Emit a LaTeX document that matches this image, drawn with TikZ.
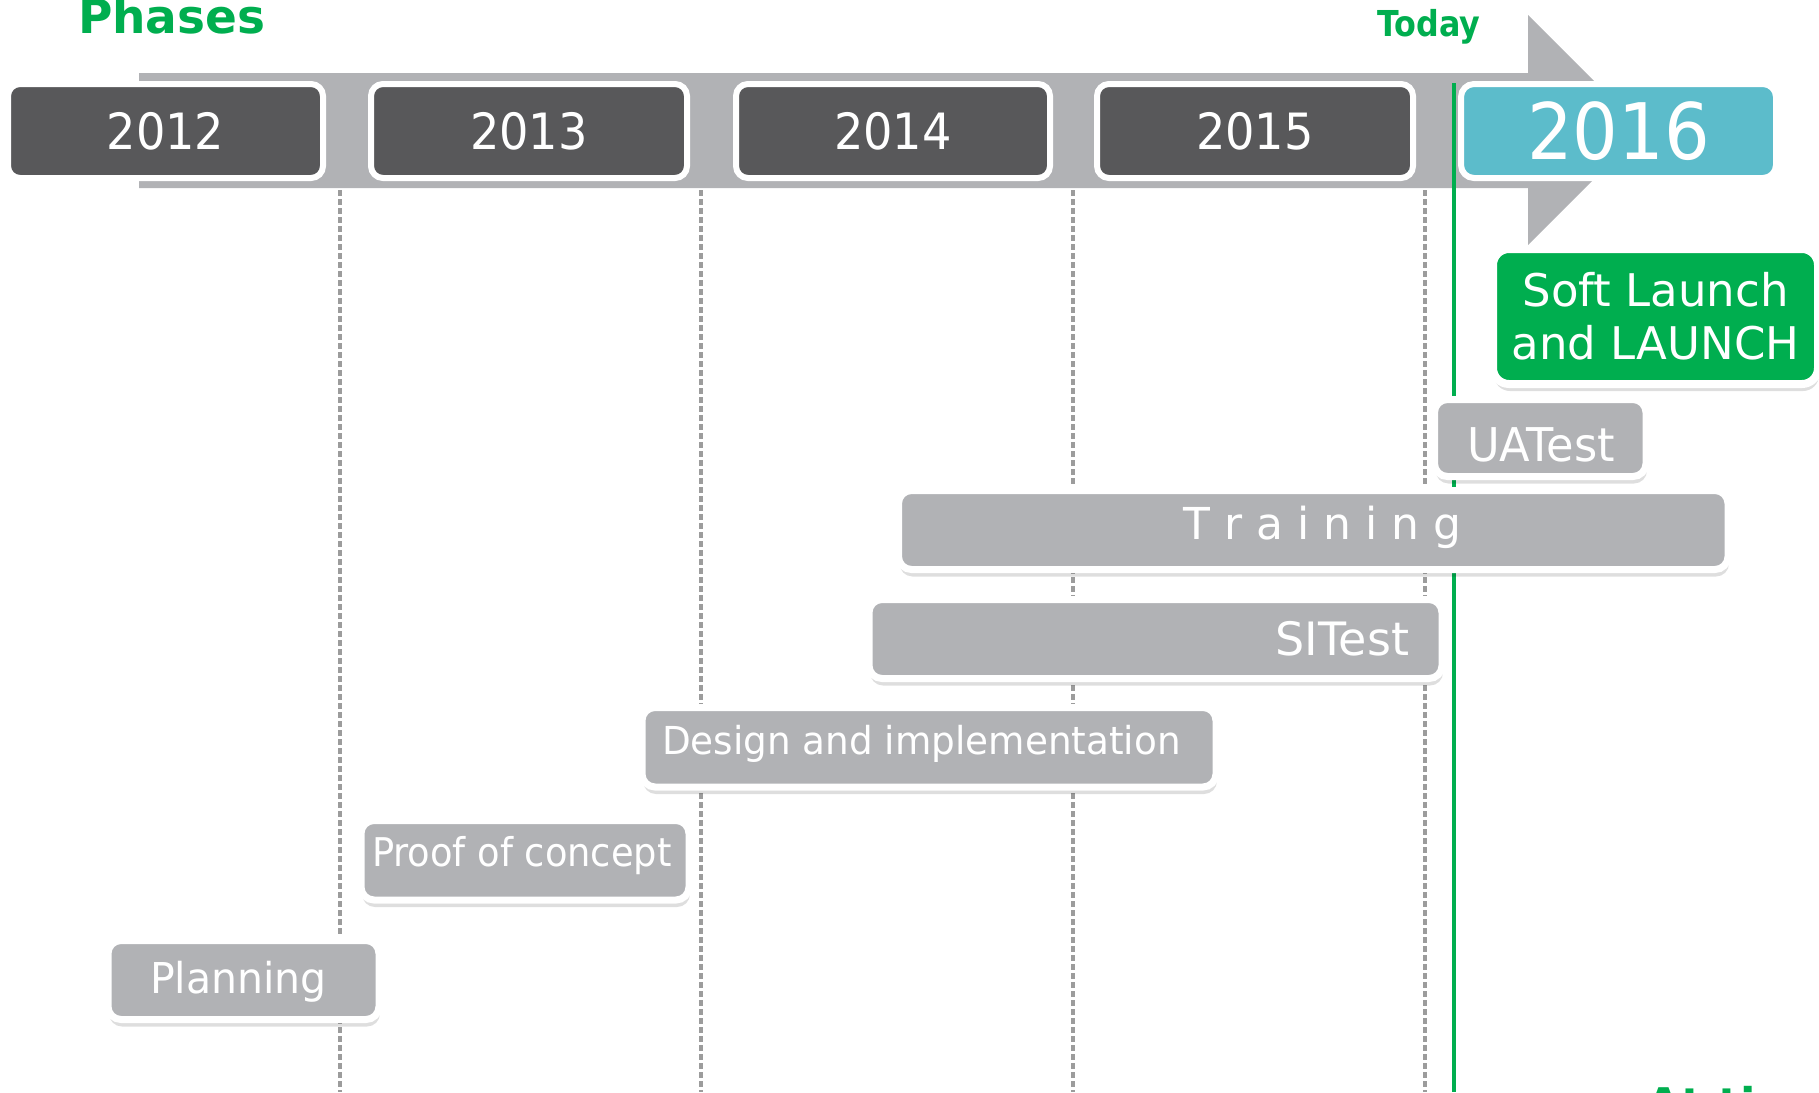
\documentclass[tikz,border=0pt]{standalone}
\usepackage{fontspec}
\usepackage{graphicx}
\setmainfont{DejaVu Sans}
\usetikzlibrary{shadows}
\definecolor{darkbox}{HTML}{58585A}
\definecolor{bandgray}{HTML}{B1B2B5}
\definecolor{teal16}{HTML}{5CBCCB}
\definecolor{grn}{HTML}{00AE4F}
\definecolor{dashgray}{HTML}{9C9C9C}
\begin{document}
\begin{tikzpicture}[x=1pt,y=-1pt,
  yearbox/.style={draw=white, line width=6pt, fill=darkbox, rounded corners=12pt,
    inner sep=0pt, outer sep=0pt, minimum height=94pt, text=white,
    font=\fontsize{50}{60}\selectfont},
  phasebox/.style={draw=white, line width=7pt, fill=bandgray, rounded corners=13pt,
    inner sep=0pt, outer sep=0pt,
    drop shadow={shadow xshift=1pt, shadow yshift=-7pt, opacity=0.13, fill=black}},
  ptext/.style={text=white, inner sep=0pt, outer sep=0pt},
  gridline/.style={dashgray, line width=4.5pt, dash pattern=on 6pt off 3pt},
  headtext/.style={text=grn, inner sep=0pt, outer sep=0pt}
]
\useasboundingbox (0,0) rectangle (1819,1092);

% dashed year separators
\foreach \n/\gx in {a/340, b/701, c/1073, d/1425}{
  \coordinate (top\n) at (\gx,190);
  \coordinate (bot\n) at (\gx,1092);
  \draw[gridline] (top\n) -- (bot\n);
}

% timeline arrow band
\fill[bandgray] (139,73) -- (1528,73) -- (1528,15) -- (1643,130) -- (1528,245)
  -- (1528,188) -- (139,188) -- cycle;

% today line
\coordinate (todaytop) at (1454,83);
\coordinate (todaybot) at (1454,1092);
\draw[grn, line width=4.5pt] (todaytop) -- (todaybot);

% year boxes
\node[yearbox, minimum width=315pt] (y2012) at (165.5,131) {\scalebox{0.925}[1]{2012}};
\node[yearbox, minimum width=316pt] (y2013) at (529,131) {\scalebox{0.925}[1]{2013}};
\node[yearbox, minimum width=314pt] (y2014) at (893,131) {\scalebox{0.925}[1]{2014}};
\node[yearbox, minimum width=316pt] (y2015) at (1255,131) {\scalebox{0.925}[1]{2015}};
\node[yearbox, fill=teal16, rounded corners=13pt, minimum width=315pt,
  font=\fontsize{78}{90}\selectfont] (y2016) at (1618.5,131) {\scalebox{0.92}[1]{2016}};

% phase boxes
\node[phasebox, fill=grn, line width=8pt, rounded corners=16pt, minimum width=325pt, minimum height=135pt,
  text=white, align=center, font=\fontsize{45}{53}\selectfont]
  (soft) at (1655.5,316.5) {Soft Launch\\and LAUNCH};
\node[phasebox, minimum width=211.5pt, minimum height=77pt] (uat) at (1540.25,438) {};
\node[phasebox, minimum width=829.5pt, minimum height=79pt] (train) at (1313.25,530) {};
\node[phasebox, minimum width=573pt, minimum height=79pt] (sit) at (1155.5,639) {};
\node[phasebox, minimum width=574pt, minimum height=79.5pt] (design) at (929,747.25) {};
\node[phasebox, minimum width=328pt, minimum height=79.5pt] (poc) at (525,860.25) {};
\node[phasebox, minimum width=271pt, minimum height=79pt] (plan) at (243.5,980) {};

% phase labels
\node[ptext, anchor=base, font=\fontsize{46.5}{56}\selectfont] (tuat) at (1541,461) {\scalebox{0.96}[1]{UATest}};
\node[ptext, anchor=base, font=\fontsize{44}{53}\selectfont] (ttrain) at (1322.5,539) {T r a i n i n g};
\node[ptext, anchor=base east, font=\fontsize{46}{55}\selectfont] (tsit) at (1409,655) {SITest};
\node[ptext, anchor=base west, font=\fontsize{38.5}{46}\selectfont] (tdes) at (662,754) {\scalebox{0.97}[1]{Design and implementation}};
\node[ptext, anchor=base west, font=\fontsize{39.6}{48}\selectfont] (tpoc) at (372,866) {\scalebox{0.93}[1]{Proof of concept}};
\node[ptext, anchor=base west, font=\fontsize{42.5}{51}\selectfont] (tplan) at (150,993) {\scalebox{0.965}[1]{Planning}};

% headings
\node[headtext, anchor=base west, font=\bfseries\fontsize{47}{56}\selectfont] (phases) at (78,33) {Phases};
\node[headtext, anchor=base west, font=\bfseries\fontsize{35.7}{43}\selectfont] (today) at (1377,36) {\scalebox{0.89}[1]{Today}};
\node[headtext, anchor=base west, font=\bfseries\fontsize{45}{54}\selectfont] (atnote) at (1646.6,1120) {At time};
\end{tikzpicture}
\end{document}
